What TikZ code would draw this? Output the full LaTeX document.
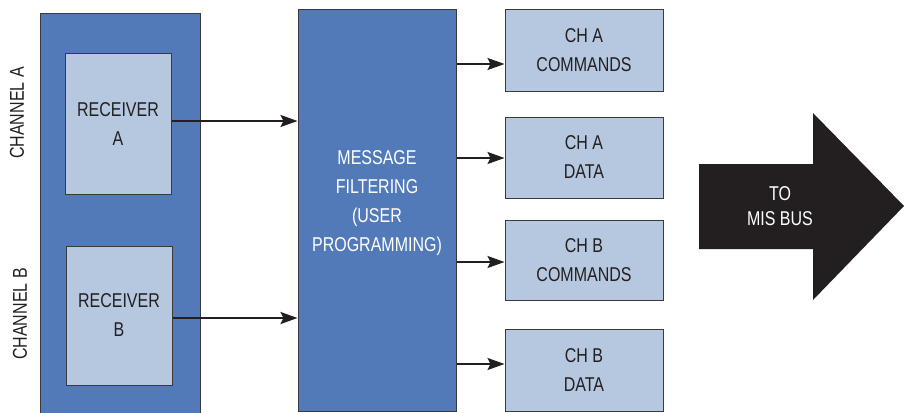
\documentclass[tikz,border=0pt]{standalone}
\usepackage{fontspec}
\setmainfont[FakeStretch=0.8]{Liberation Sans}
\usetikzlibrary{arrows.meta}
\definecolor{dblue}{HTML}{527AB9}
\definecolor{lblue}{HTML}{B6C8E0}
\definecolor{edge}{HTML}{3A3A3C}
\definecolor{ink}{HTML}{231F20}
\tikzset{
  txt/.style={font=\fontsize{20}{29}\selectfont, align=center, text=ink, inner sep=0pt},
  darkbox/.style={draw=edge, line width=1pt, fill=dblue},
  lightbox/.style={draw=edge, line width=1pt, fill=lblue, inner sep=0pt},
  conn/.style={draw=ink, line width=2.2pt, -{Stealth[length=17pt,width=12pt,inset=3pt]}}
}
\begin{document}
\begin{tikzpicture}[x=1pt,y=-1pt]
\useasboundingbox (0,0) rectangle (904,412);
% outer receiver panel
\draw[darkbox] (40,420) -- (40,14) -- (200,14) -- (200,420);
% receivers
\node[lightbox, minimum width=106pt, minimum height=140pt, txt] (recA) at (118,124) {RECEIVER\\A};
\node[lightbox, minimum width=106pt, minimum height=139pt, txt] (recB) at (119,315.5) {RECEIVER\\B};
% channel labels
\node[txt, rotate=90] (chanA) at (17,113) {CHANNEL A};
\node[txt, rotate=90] (chanB) at (20,314) {CHANNEL B};
% message filtering
\node[darkbox, minimum width=158pt, minimum height=401pt, inner sep=0pt] (filt) at (377,210.5) {};
\node[txt, text=white] (filttext) at (377,203) {MESSAGE\\FILTERING\\(USER\\PROGRAMMING)};
% output boxes
\node[lightbox, minimum width=158pt, minimum height=81pt, txt] (cac) at (584,50.5) {CH A\\COMMANDS};
\node[lightbox, minimum width=158pt, minimum height=81pt, txt] (cad) at (584,157.5) {CH A\\DATA};
\node[lightbox, minimum width=158pt, minimum height=80pt, txt] (cbc) at (584,260) {CH B\\COMMANDS};
\node[lightbox, minimum width=158pt, minimum height=82pt, txt] (cbd) at (584,370) {CH B\\DATA};
% connectors
\coordinate (inA) at (filt.west |- 0,121);
\coordinate (inB) at (filt.west |- 0,318);
\draw[conn] (recA.east |- inA) -- (inA);
\draw[conn] (recB.east |- inB) -- (inB);
\coordinate (o1) at (filt.east |- 0,64);
\coordinate (o2) at (filt.east |- 0,158);
\coordinate (o3) at (filt.east |- 0,262);
\coordinate (o4) at (filt.east |- 0,364);
\draw[conn] (o1) -- (cac.west |- o1);
\draw[conn] (o2) -- (cad.west |- o2);
\draw[conn] (o3) -- (cbc.west |- o3);
\draw[conn] (o4) -- (cbd.west |- o4);
% big arrow
\fill[ink] (699,164) -- (813,164) -- (813,113) -- (904,206) -- (813,300) -- (813,249) -- (699,249) -- cycle;
\node[txt, text=white, font=\fontsize{20}{25}\selectfont] (tobus) at (780,206.5) {TO\\MIS BUS};
\end{tikzpicture}
\end{document}
